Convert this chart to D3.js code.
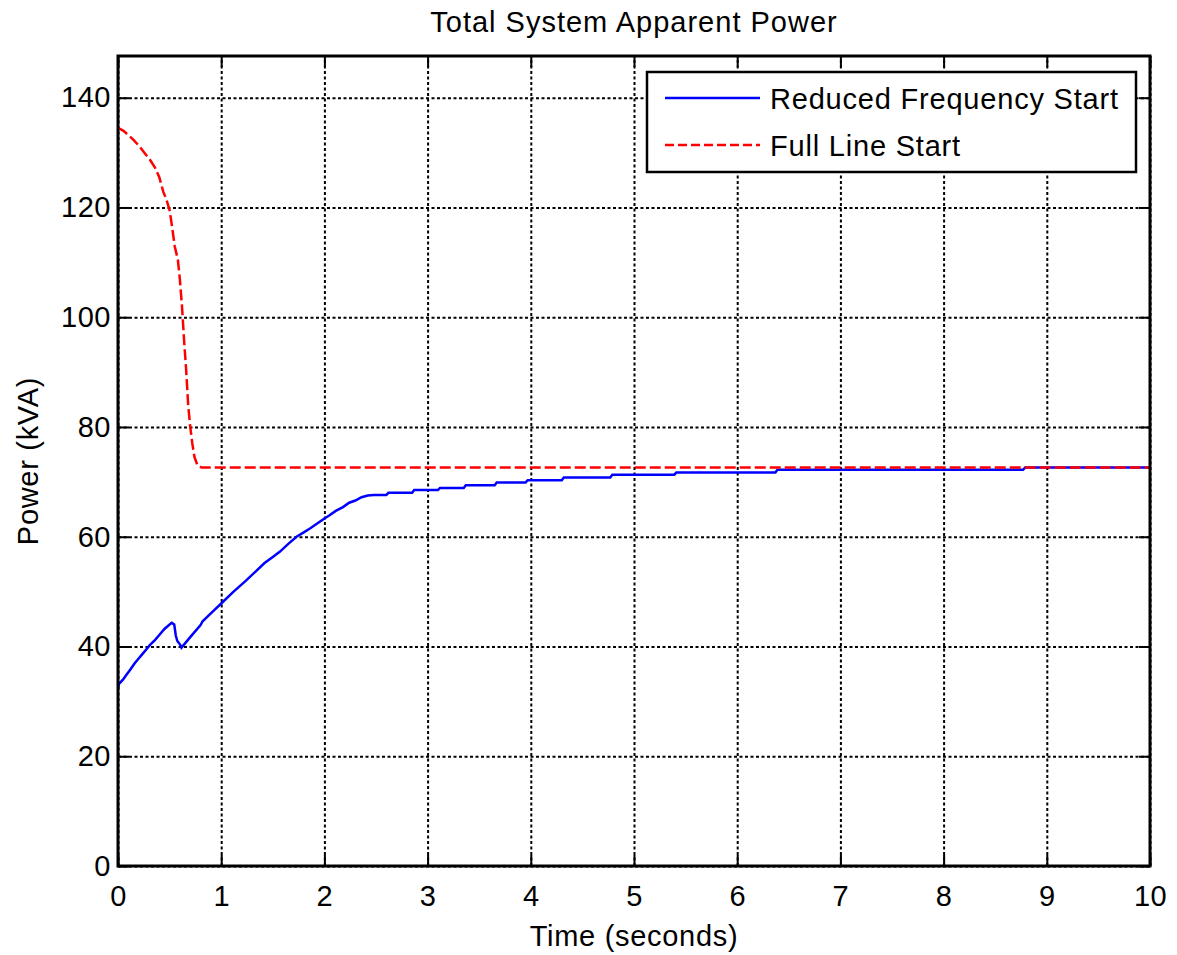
<!DOCTYPE html>
<html>
<head>
<meta charset="utf-8">
<script src="https://cdn.jsdelivr.net/npm/d3@7"></script>
<style>
  body { margin: 0; background: #fff; }
  svg { display: block; font-family: "Liberation Sans", Arial, sans-serif; }
</style>
</head>
<body>
<svg></svg>
<script>
// values
let timeFull  = [0, 0.05, 0.10, 0.15, 0.20, 0.25, 0.31, 0.36, 0.40, 0.44, 0.47, 0.50, 0.52, 0.55, 0.58, 0.60, 0.62, 0.64, 0.66, 0.68, 0.70, 0.72, 0.74, 0.77, 0.81, 10]
let powerFull = [134.5, 134.0, 133.2, 132.3, 131.3, 130.1, 128.7, 127.2, 125.5, 122.8, 121.4, 119.5, 117.0, 112.9, 110.5, 106.8, 102.0, 95.9, 90.5, 84.0, 80.0, 77.0, 74.6, 73.0, 72.6, 72.6]

let timeReduced = [0, 0.01, 0.05, 0.08, 0.12, 0.16, 0.20, 0.24, 0.28, 0.31, 0.36, 0.40, 0.45, 0.50, 0.52, 0.545, 0.56, 0.575, 0.60, 0.615,
                   0.70, 0.80, 0.82, 0.92, 1.02, 1.12, 1.24, 1.33, 1.42, 1.50, 1.57, 1.65, 1.73, 1.80, 1.86, 1.93, 1.99, 2.05, 2.11, 2.18,
                   2.24, 2.30, 2.36, 2.42, 2.48, 2.60, 2.62, 2.85, 2.87, 3.10, 3.12, 3.35, 3.37, 3.65, 3.67, 3.95, 3.97, 4.30, 4.32, 4.77,
                   4.79, 5.39, 5.41, 6.37, 6.39, 8.77, 8.79, 10]
let powerReduced = [32.4, 33.2, 34.0, 34.8, 35.8, 36.9, 37.8, 38.7, 39.6, 40.3, 41.2, 42.1, 43.2, 44.0, 44.3, 44.0, 42.0, 41.0, 40.4, 39.8,
                    41.7, 43.9, 44.6, 46.4, 48.2, 50.0, 52.0, 53.6, 55.2, 56.3, 57.3, 58.7, 60.0, 60.8, 61.5, 62.4, 63.2, 63.9, 64.7, 65.4,
                    66.2, 66.6, 67.2, 67.5, 67.6, 67.6, 68.0, 68.0, 68.5, 68.5, 68.9, 68.9, 69.4, 69.4, 69.9, 69.9, 70.3, 70.3, 70.8, 70.8,
                    71.3, 71.3, 71.7, 71.7, 72.2, 72.2, 72.6, 72.6]

let xTicks = [0, 1, 2, 3, 4, 5, 6, 7, 8, 9, 10]
let yTicks = [0, 20, 40, 60, 80, 100, 120, 140]
let seriesNames = ['Reduced Frequency Start', 'Full Line Start']

let width = 1177
let height = 955
let plotLeft = 118
let plotRight = 1150
let plotTop = 56
let plotBottom = 866

let svg = d3.select('svg').attr('width', width).attr('height', height)

let xScale = d3.scaleLinear().domain([0, 10]).range([plotLeft, plotRight])
let yScale = d3.scaleLinear().domain([0, 147.6]).range([plotBottom, plotTop])

svg.append('rect').attr('x', 0).attr('y', 0).attr('width', width).attr('height', height).attr('fill', '#fff')

// dotted grid
let gridX = svg.append('g')
  .attr('transform', 'translate(0,' + plotBottom + ')')
  .call(d3.axisBottom(xScale).tickValues(xTicks).tickSize(-(plotBottom - plotTop)).tickFormat(''))
gridX.select('.domain').remove()
gridX.selectAll('line').attr('stroke', '#000').attr('stroke-width', 2).attr('stroke-dasharray', '3,2.5')

let gridY = svg.append('g')
  .attr('transform', 'translate(' + plotLeft + ',0)')
  .call(d3.axisLeft(yScale).tickValues(yTicks).tickSize(-(plotRight - plotLeft)).tickFormat(''))
gridY.select('.domain').remove()
gridY.selectAll('line').attr('stroke', '#000').attr('stroke-width', 2).attr('stroke-dasharray', '3,2.5')

// lines
svg.append('clipPath').attr('id', 'plot-clip')
  .append('rect').attr('x', plotLeft).attr('y', plotTop).attr('width', plotRight - plotLeft).attr('height', plotBottom - plotTop)

let line = d3.line().x((d) => xScale(d[0])).y((d) => yScale(d[1]))

let reduced = timeReduced.map((t, i) => [t, powerReduced[i]])
let full = timeFull.map((t, i) => [t, powerFull[i]])

svg.append('path')
   .datum(reduced)
   .attr('clip-path', 'url(#plot-clip)')
   .attr('d', line)
   .attr('fill', 'none')
   .attr('stroke', '#0000ff')
   .attr('stroke-width', 2.5)

svg.append('path')
   .datum(full)
   .attr('clip-path', 'url(#plot-clip)')
   .attr('d', line)
   .attr('fill', 'none')
   .attr('stroke', '#ff0000')
   .attr('stroke-width', 2.5)
   .attr('stroke-dasharray', '11,4')

// axes with inside ticks on all four sides
let tickLen = 11
let styleAxis = (g) => {
  g.select('.domain').remove()
  g.selectAll('line').attr('stroke', '#000').attr('stroke-width', 2)
  g.selectAll('text').attr('fill', '#000').style('font-size', '29px').style('letter-spacing', '0.5px')
}

svg.append('g')
   .attr('transform', 'translate(0,' + plotBottom + ')')
   .call(d3.axisBottom(xScale).tickValues(xTicks).tickSizeInner(-tickLen).tickSizeOuter(0).tickPadding(19))
   .call(styleAxis)

svg.append('g')
   .attr('transform', 'translate(' + plotLeft + ',0)')
   .call(d3.axisLeft(yScale).tickValues(yTicks).tickSizeInner(-tickLen).tickSizeOuter(0).tickPadding(7))
   .call(styleAxis)

svg.append('g')
   .attr('transform', 'translate(0,' + plotTop + ')')
   .call(d3.axisTop(xScale).tickValues(xTicks).tickSizeInner(-tickLen).tickSizeOuter(0).tickFormat(''))
   .call(styleAxis)

svg.append('g')
   .attr('transform', 'translate(' + plotRight + ',0)')
   .call(d3.axisRight(yScale).tickValues(yTicks).tickSizeInner(-tickLen).tickSizeOuter(0).tickFormat(''))
   .call(styleAxis)

svg.append('rect')
   .attr('x', plotLeft).attr('y', plotTop)
   .attr('width', plotRight - plotLeft).attr('height', plotBottom - plotTop)
   .attr('fill', 'none').attr('stroke', '#000').attr('stroke-width', 3)

// titles
svg.append('text')
   .attr('x', (plotLeft + plotRight) / 2).attr('y', 32)
   .attr('text-anchor', 'middle')
   .style('font-size', '29px')
   .style('letter-spacing', '1px')
   .text('Total System Apparent Power')

svg.append('text')
   .attr('x', (plotLeft + plotRight) / 2).attr('y', 946)
   .attr('text-anchor', 'middle')
   .style('font-size', '29px')
   .style('letter-spacing', '0.7px')
   .text('Time (seconds)')

svg.append('text')
   .attr('transform', 'translate(38,' + ((plotTop + plotBottom) / 2) + ') rotate(-90)')
   .attr('text-anchor', 'middle')
   .style('font-size', '29px')
   .style('letter-spacing', '0.7px')
   .text('Power (kVA)')

// legend
let legend = svg.append('g')
legend.append('rect')
      .attr('x', 647).attr('y', 72)
      .attr('width', 489).attr('height', 100)
      .attr('fill', '#fff').attr('stroke', '#000').attr('stroke-width', 2.5)

let legendColors = ['#0000ff', '#ff0000']
let legendDash = [null, '9,4']
seriesNames.forEach((name, i) => {
  let ly = 98 + i * 47
  legend.append('line')
        .attr('x1', 665).attr('x2', 760)
        .attr('y1', ly).attr('y2', ly)
        .attr('stroke', legendColors[i]).attr('stroke-width', 2.5)
        .attr('stroke-dasharray', legendDash[i])
  legend.append('text')
        .attr('x', 770).attr('y', ly + 11)
        .style('font-size', '29px')
        .style('letter-spacing', '0.8px')
        .text(name)
})
</script>
</body>
</html>
